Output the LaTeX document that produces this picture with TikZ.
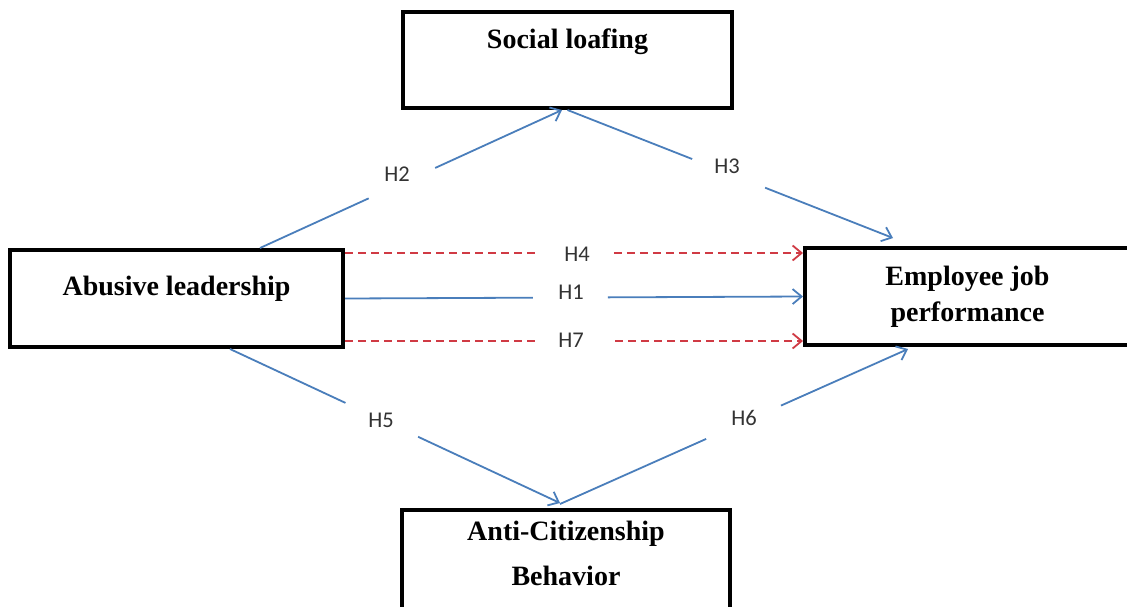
\documentclass[tikz,border=0pt]{standalone}
\usepackage{fontspec}
\setmainfont{Liberation Serif}
\newfontfamily\hypfont{Carlito}
\usepackage{tikz}
\usetikzlibrary{arrows.meta}
\usetikzlibrary{calc}
\definecolor{pathblue}{RGB}{74,126,187}
\definecolor{pathred}{RGB}{208,58,68}
\tikzset{
  box/.style = {draw, line width = 4pt, inner sep = 0pt, font = \fontsize{28}{36}\selectfont\bfseries},
  hyp/.style = {font = \hypfont\fontsize{22.5}{24}\selectfont, text = black!80},
  direct/.style = {pathblue, line width = 1.8pt},
  mediated/.style = {pathred, line width = 1.8pt, dash pattern = on 8pt off 5pt},
  headed/.style = {-{Straight Barb[length = 9pt, width = 15pt]}}
}
\begin{document}
\begin{tikzpicture}[x = 1pt, y = -1pt]
        \useasboundingbox (0, 0) rectangle (1127, 606);
        \clip (0, 0) rectangle (1127, 606);
        % constructs
        \node [box, minimum width = 329pt, text height = 36pt, text depth = 60pt] (sl) at (567.5, 60) {Social loafing};
        \node [box, minimum width = 333pt, text height = 45pt, text depth = 52pt] (al) at (176.5, 298.5) {Abusive leadership};
        \node [box, minimum width = 325pt, minimum height = 97pt, align = center] (ep) at (967.5, 296.5) {Employee job\\performance};
        \node [box, minimum width = 328pt, text height = 30pt, text depth = 80pt, font = \fontsize{28}{45}\selectfont\bfseries] (ac) at (566, 565) {\begin{tabular}[t]{@{}c@{}}Anti-Citizenship\\Behavior\end{tabular}};
        % hypothesis labels
        \node [hyp] (h2) at (397, 174) {H2};
        \node [hyp] (h3) at (727, 166) {H3};
        \node [hyp] (h4) at (577, 254) {H4};
        \node [hyp] (h1) at (571, 292) {H1};
        \node [hyp] (h7) at (571, 340) {H7};
        \node [hyp] (h5) at (381, 420) {H5};
        \node [hyp] (h6) at (744, 418) {H6};
        % end points
        \coordinate (h2s) at ([xshift = -85pt]al.north east);
        \coordinate (h2e) at ([xshift = -5.5pt]sl.south);
        \coordinate (h3s) at (sl.south);
        \coordinate (h3e) at ([xshift = -74.5pt, yshift = 8pt]ep.north);
        \coordinate (h4s) at ([yshift = -5pt]al.north east);
        \coordinate (h4e) at (h4s -| ep.west);
        \coordinate (h1s) at (al.east);
        \coordinate (h1e) at (ep.west);
        \coordinate (h7s) at ([yshift = 8pt]al.south east);
        \coordinate (h7e) at (h7s -| ep.west);
        \coordinate (h5s) at ([xshift = 53.5pt]al.south);
        \coordinate (h5e) at ([xshift = -6pt, yshift = 5pt]ac.north);
        \coordinate (h6s) at ([xshift = -6pt, yshift = 4pt]ac.north);
        \coordinate (h6e) at ([xshift = -59.5pt, yshift = -2pt]ep.south);
        % paths
        \draw [direct] (h2s) -- ($(h2s)!0.36!(h2e)$);
        \draw [direct, headed] ($(h2s)!0.58!(h2e)$) -- (h2e);
        \draw [direct] (h3s) -- ($(h3s)!0.383!(h3e)$);
        \draw [direct, headed] ($(h3s)!0.607!(h3e)$) -- (h3e);
        \draw [mediated] (h4s) -- ($(h4s)!0.42!(h4e)$);
        \draw [mediated, headed] ($(h4s)!0.587!(h4e)$) -- (h4e);
        \draw [direct] (h1s) -- ($(h1s)!0.41!(h1e)$);
        \draw [direct, headed] ($(h1s)!0.574!(h1e)$) -- (h1e);
        \draw [mediated] (h7s) -- ($(h7s)!0.415!(h7e)$);
        \draw [mediated, headed] ($(h7s)!0.59!(h7e)$) -- (h7e);
        \draw [direct] (h5s) -- ($(h5s)!0.35!(h5e)$);
        \draw [direct, headed] ($(h5s)!0.57!(h5e)$) -- (h5e);
        \draw [direct] (h6s) -- ($(h6s)!0.42!(h6e)$);
        \draw [direct, headed] ($(h6s)!0.635!(h6e)$) -- (h6e);
\end{tikzpicture}
\end{document}
